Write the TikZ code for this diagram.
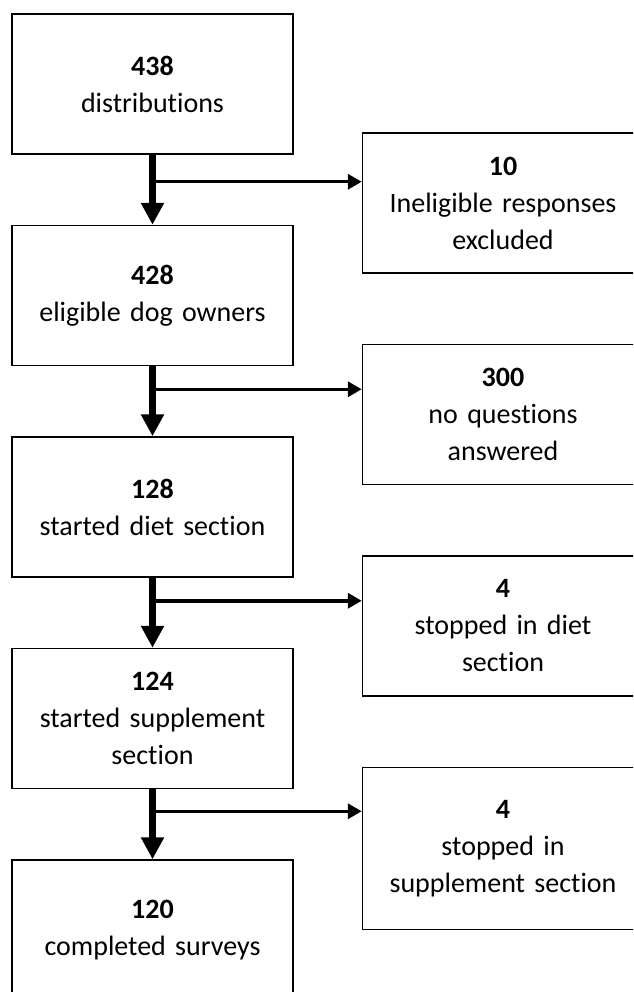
\documentclass[tikz,border=0pt]{standalone}
\usepackage{fontspec}
\setmainfont{Carlito}[Ligatures=NoCommon]
\usetikzlibrary{chains}
\usetikzlibrary{positioning}
\usetikzlibrary{arrows.meta}

\begin{document}
\begin{tikzpicture}[
	x=0.4pt, y=-0.4pt,
	start chain=1 going below,
	start chain=2 going below,
	node distance=28pt,
	box/.style={
		rectangle,
		draw=black,
		line width=0.6pt,
		text centered,
		text width=108pt,
		minimum width=112.4pt,
		minimum height=56pt,
		inner sep=0pt
		},
	stage/.style={
		box,
		on chain=1
	},
	drop/.style={
		box,
		on chain=2
	},
	main/.style={
		-{Triangle[length=8.8pt,width=8.8pt]},
		line width=2.8pt
	},
	side/.style={
		-{Triangle[length=5.6pt,width=6pt]},
		line width=1.4pt
	},
	every node/.style={font=\fontsize{11.2}{14.8}\selectfont}
]
\useasboundingbox (0,0) rectangle (633,992);
\clip (0,0) rectangle (633,992);

% Stages
\node [stage] (Distributions) at (152.5,84) {\textbf{438}\\distributions};
\node [stage] (Eligible) {\textbf{428}\\eligible dog owners};
\node [stage] (Diet) {\textbf{128}\\started diet section};
\node [stage] (Supplement) {\textbf{124}\\started supplement\\section};
\node [stage] (Completed) {\textbf{120}\\completed surveys};

% Exclusions
\node [drop] (Ineligible) at (503,203) {\textbf{10}\\Ineligible responses\\excluded};
\node [drop] (NoAnswer) {\textbf{300}\\no questions\\answered};
\node [drop] (StoppedDiet) {\textbf{4}\\stopped in diet\\section};
\node [drop, minimum height=64.8pt] (StoppedSupp) {\textbf{4}\\stopped in\\supplement section};

% Branch points
\coordinate (Split 1) at ([yshift=-10.8pt]Distributions.south);
\coordinate (Split 2) at ([yshift=-9.2pt]Eligible.south);
\coordinate (Split 3) at ([yshift=-9.2pt]Diet.south);
\coordinate (Split 4) at ([yshift=-8.8pt]Supplement.south);

% Flow
\draw [main] (Distributions) -- (Eligible);
\draw [main] (Eligible) -- (Diet);
\draw [main] (Diet) -- (Supplement);
\draw [main] (Supplement) -- (Completed);

\draw [side] (Split 1) -- (Split 1 -| Ineligible.west);
\draw [side] (Split 2) -- (Split 2 -| NoAnswer.west);
\draw [side] (Split 3) -- (Split 3 -| StoppedDiet.west);
\draw [side] (Split 4) -- (Split 4 -| StoppedSupp.west);
\end{tikzpicture}
\end{document}
